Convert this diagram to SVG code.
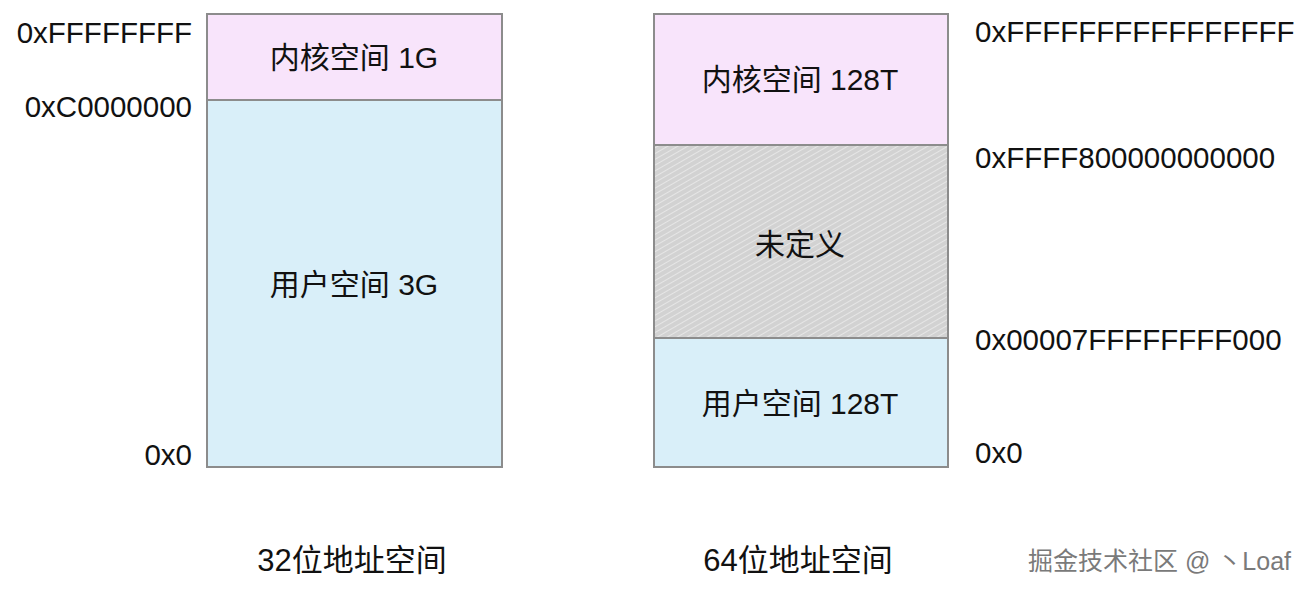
<svg xmlns="http://www.w3.org/2000/svg" width="1309" height="595" viewBox="0 0 1309 595">
<style>
.box{stroke:#8c8c8c;stroke-width:2}
.k{fill:#f8e4fb}
.u{fill:#d9eff9}
.t{font-family:"Liberation Sans","Noto Sans CJK SC",sans-serif;font-size:29.5px;fill:#111}
.l{font-family:"Liberation Sans","Noto Sans CJK SC",sans-serif;font-size:30px;fill:#111;text-anchor:middle}
.h{font-family:"Liberation Sans","Noto Sans CJK SC",sans-serif;font-size:31px;fill:#111;text-anchor:middle}
.r{text-anchor:end}
.wm{font-family:"Liberation Sans","Noto Sans CJK SC",sans-serif;font-size:25px;fill:#7a7a7a;text-anchor:end}
</style>
<defs>
<pattern id="hatch" width="5" height="5" patternUnits="userSpaceOnUse" patternTransform="rotate(60)">
<rect width="5" height="5" fill="#d2d2d2"/>
<line x1="0" y1="0" x2="0" y2="5" stroke="#ececec" stroke-width="1.6"/>
</pattern>
</defs>
<rect width="1309" height="595" fill="#fff"/>
<g id="left32">
<g id="kernel32"><rect class="box k" x="207" y="14" width="295" height="86"/><text class="l" x="354" y="68">内核空间 1G</text></g>
<g id="user32"><rect class="box u" x="207" y="100" width="295" height="367"/><text class="l" x="354" y="295">用户空间 3G</text></g>
<text class="t r" x="192" y="43">0xFFFFFFFF</text>
<text class="t r" x="192" y="117">0xC0000000</text>
<text class="t r" x="192" y="465">0x0</text>
<text class="h" x="352" y="571">32位地址空间</text>
</g>
<g id="right64">
<g id="kernel64"><rect class="box k" x="654" y="14" width="294" height="131"/><text class="l" x="800" y="90">内核空间 128T</text></g>
<g id="undef64"><rect class="box" fill="url(#hatch)" x="654" y="145" width="294" height="193"/><text class="l" x="800" y="255">未定义</text></g>
<g id="user64"><rect class="box u" x="654" y="338" width="294" height="129"/><text class="l" x="800" y="414">用户空间 128T</text></g>
<text class="t" x="975" y="42">0xFFFFFFFFFFFFFFFF</text>
<text class="t" x="975" y="168">0xFFFF800000000000</text>
<text class="t" x="975" y="350">0x00007FFFFFFFF000</text>
<text class="t" x="975" y="463">0x0</text>
<text class="h" x="798" y="571">64位地址空间</text>
</g>
<text class="wm" x="1291" y="570">掘金技术社区 @ 丶Loaf</text>
</svg>
